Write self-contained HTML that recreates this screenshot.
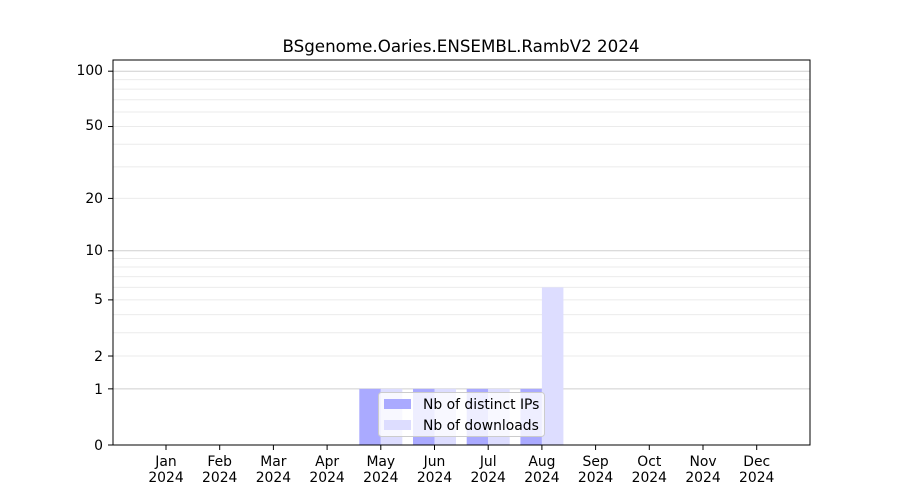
<!DOCTYPE html>
<html><head><meta charset="utf-8"><style>
body{margin:0;background:#fff}
svg{display:block;font-family:"DejaVu Sans","Liberation Sans",sans-serif}
</style></head><body>
<svg id="s" width="900" height="500" viewBox="0 0 900 500" xmlns="http://www.w3.org/2000/svg">
<rect width="900" height="500" fill="#fff"/>
<g id="grid"></g>
<g id="bars"></g>
<rect x="113" y="60" width="697" height="385" fill="none" stroke="#000" stroke-width="1"/>
<g font-size="13.9" fill="#000" text-anchor="end">
<text x="103" y="450">0</text>
<text x="103" y="394">1</text>
<text x="103" y="361">2</text>
<text x="103" y="304">5</text>
<text x="103" y="255">10</text>
<text x="103" y="203">20</text>
<text x="103" y="130">50</text>
<text x="103" y="75">100</text>
</g>
<g id="ticks" stroke="#000" stroke-width="1"></g>
<g font-size="13.9" fill="#000" text-anchor="middle" id="xl"></g>
<text x="461" y="52" font-size="16.7" text-anchor="middle">BSgenome.Oaries.ENSEMBL.RambV2 2024</text>
<g>
<rect x="378.5" y="392.5" width="166" height="44" rx="3" fill="#fff" fill-opacity="0.8" stroke="#ccc"/>
<rect x="384" y="399" width="27" height="10" fill="#aaaaff"/>
<rect x="384" y="420" width="27" height="10" fill="#ddddff"/>
<text x="423" y="409" font-size="13.9">Nb of distinct IPs</text>
<text x="423" y="430" font-size="13.9">Nb of downloads</text>
</g>
</svg>
<script>
var ns="http://www.w3.org/2000/svg";
function Y(v){return 445-186.5*Math.log10(v+1);}
function el(p,t,a){var e=document.createElementNS(ns,t);for(var k in a)e.setAttribute(k,a[k]);document.getElementById(p).appendChild(e);return e;}
var minors=[2,3,4,5,6,7,8,9,20,30,40,50,60,70,80,90];
minors.forEach(function(v){var y=Y(v);el("grid","line",{x1:113,x2:810,y1:y,y2:y,stroke:"#ebebeb","stroke-width":1});});
[1,10,100].forEach(function(v){var y=Y(v);el("grid","line",{x1:113,x2:810,y1:y,y2:y,stroke:"#cfcfcf","stroke-width":1});});
[0,1,2,5,10,20,50,100].forEach(function(v){var y=Y(v);el("ticks","line",{x1:108,x2:113,y1:y,y2:y});});
var m=["Jan","Feb","Mar","Apr","May","Jun","Jul","Aug","Sep","Oct","Nov","Dec"];
var ip=[0,0,0,0,1,1,1,1,0,0,0,0],dl=[0,0,0,0,1,1,1,6,0,0,0,0];
for(var i=0;i<12;i++){var c=166+i*53.7;
el("ticks","line",{x1:c,x2:c,y1:445,y2:450});
var t=el("xl","text",{x:c,y:466});t.textContent=m[i];
var t2=el("xl","text",{x:c,y:482});t2.textContent="2024";
if(ip[i]>0)el("bars","rect",{x:c-21.5,y:Y(ip[i]),width:21.5,height:445-Y(ip[i]),fill:"#aaaaff"});
if(dl[i]>0)el("bars","rect",{x:c,y:Y(dl[i]),width:21.5,height:445-Y(dl[i]),fill:"#ddddff"});
}
</script>
</body></html>
